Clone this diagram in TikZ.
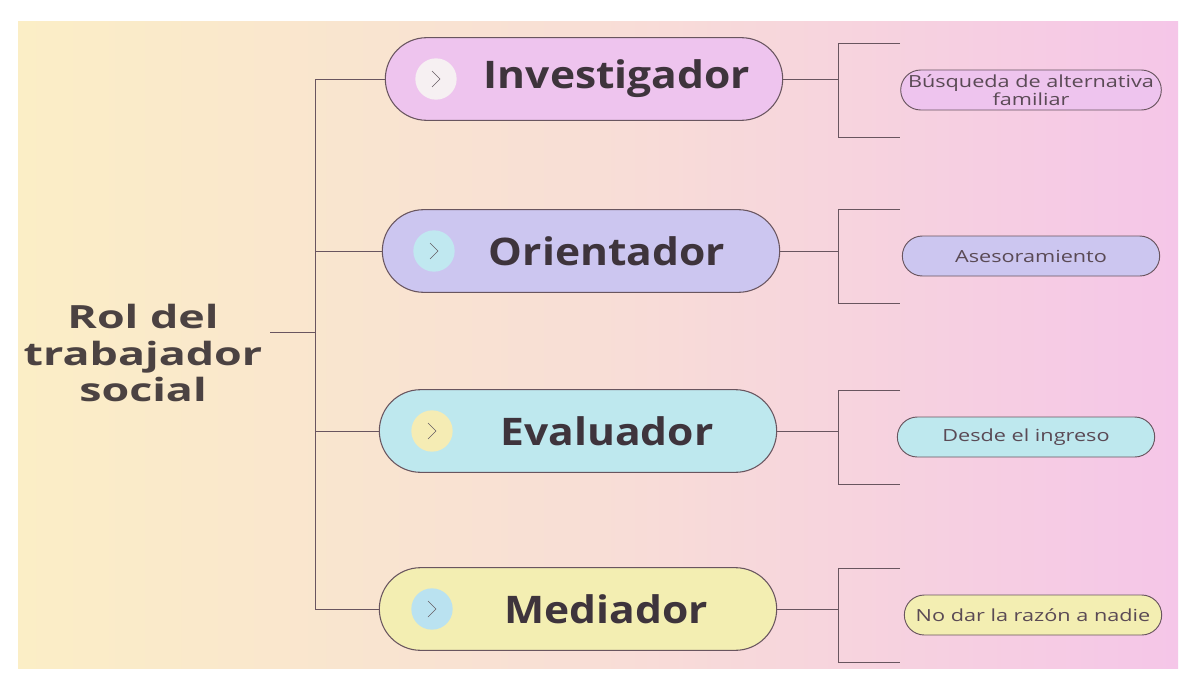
\documentclass[tikz,border=0pt]{standalone}
\usepackage{fontspec}
\setmainfont{Open Sans}
\newfontfamily\rolfont[FakeStretch=1.4]{Open Sans}
\newfontfamily\cargofont[FakeStretch=1.12]{Open Sans}
\newfontfamily\notafont[FakeStretch=1.3]{Open Sans}
\usetikzlibrary{shapes.misc,positioning}

\definecolor{bgl}{RGB}{251,238,198}
\definecolor{bgm}{RGB}{248,222,214}
\definecolor{bgr}{RGB}{245,198,232}
\definecolor{invfill}{RGB}{238,196,238}
\definecolor{orifill}{RGB}{204,198,240}
\definecolor{evafill}{RGB}{190,232,238}
\definecolor{medfill}{RGB}{243,238,178}
\definecolor{invicon}{RGB}{246,240,242}
\definecolor{oriicon}{RGB}{192,232,240}
\definecolor{evaicon}{RGB}{245,236,180}
\definecolor{medicon}{RGB}{186,226,240}
\definecolor{linecol}{RGB}{105,85,95}
\definecolor{textcol}{RGB}{62,52,60}
\definecolor{roottext}{RGB}{75,66,66}
\definecolor{notecol}{RGB}{90,74,85}

\begin{document}
\begin{tikzpicture}[x=0.75pt,y=0.75pt,yscale=-1,xscale=1,
    cargo/.style={rounded rectangle, draw=linecol, line width=0.8pt, minimum width=298pt, minimum height=62pt, inner sep=0pt},
    cargotext/.style={text=textcol, font=\cargofont\bfseries\fontsize{28.5}{30}\selectfont},
    icono/.style={circle, minimum size=31pt, inner sep=0pt},
    chev/.style={draw=textcol!80, line width=0.5pt},
    nota/.style={rounded rectangle, draw=linecol, line width=0.7pt, minimum width=193pt, minimum height=30pt, inner sep=0pt, align=center, text=notecol, font=\notafont\fontsize{12.5}{13.5}\selectfont},
    conn/.style={draw=linecol, line width=0.6pt}]
    \useasboundingbox (0,0) rectangle (1184,685);
    \fill[white] (0,0) rectangle (1184,685);
    \shade[left color=bgl, right color=bgr, middle color=bgm] (18,22) rectangle (1178,668);

    % Root
    \node[align=center, text=roottext, font=\rolfont\bfseries\fontsize{24}{27.5}\selectfont] (rol) at (143,353) {Rol del\\trabajador\\social};
    \coordinate (rolstub) at (270,332);
    \coordinate (tr) at (315,0);
    \coordinate (br) at (838,0);

    % Investigador
    \node[cargo, fill=invfill] (inv) at (584,79) {};
    \node[icono, fill=invicon] (invic) at (436,79) {};
    \draw[chev] (invic.center) ++(-4,-8) -- ++(8,8) -- ++(-8,8);
    \node[cargotext] (invt) at (617,79) {Investigador};
    \node[nota, fill=invfill] (invn) at (1031,90) {Búsqueda de alternativa\\familiar};

    % Orientador
    \node[cargo, fill=orifill] (ori) at (581,251) {};
    \node[icono, fill=oriicon] (oriic) at (434,251) {};
    \draw[chev] (oriic.center) ++(-4,-8) -- ++(8,8) -- ++(-8,8);
    \node[cargotext] (orit) at (607,251) {Orientador};
    \node[nota, fill=orifill] (orin) at (1031,256) {Asesoramiento};

    % Evaluador
    \node[cargo, fill=evafill] (eva) at (578,431) {};
    \node[icono, fill=evaicon] (evaic) at (432,431) {};
    \draw[chev] (evaic.center) ++(-4,-8) -- ++(8,8) -- ++(-8,8);
    \node[cargotext] (evat) at (607,431) {Evaluador};
    \node[nota, fill=evafill] (evan) at (1026,437) {Desde el ingreso};

    % Mediador
    \node[cargo, fill=medfill] (med) at (578,609) {};
    \node[icono, fill=medicon] (medic) at (432,609) {};
    \draw[chev] (medic.center) ++(-4,-8) -- ++(8,8) -- ++(-8,8);
    \node[cargotext] (medt) at (606,609) {Mediador};
    \node[nota, fill=medfill] (medn) at (1033,615) {No dar la razón a nadie};

    % Connection
    \draw[conn] (rolstub) -- (rolstub -| tr);
    \draw[conn] (inv.west) -- (inv.west -| tr) -- (med.west -| tr) -- (med.west);
    \draw[conn] (ori.west -| tr) -- (ori.west);
    \draw[conn] (eva.west -| tr) -- (eva.west);
    % Brackets
    \draw[conn] (inv.east) -- (inv.east -| br);
    \draw[conn] (invn.west -| br) ++(62,-47) -- ++(-62,0) -- ++(0,94) -- ++(62,0);
    \draw[conn] (ori.east) -- (ori.east -| br);
    \draw[conn] (orin.west -| br) ++(62,-47) -- ++(-62,0) -- ++(0,94) -- ++(62,0);
    \draw[conn] (eva.east) -- (eva.east -| br);
    \draw[conn] (evan.west -| br) ++(62,-47) -- ++(-62,0) -- ++(0,94) -- ++(62,0);
    \draw[conn] (med.east) -- (med.east -| br);
    \draw[conn] (medn.west -| br) ++(62,-47) -- ++(-62,0) -- ++(0,94) -- ++(62,0);
\end{tikzpicture}
\end{document}
